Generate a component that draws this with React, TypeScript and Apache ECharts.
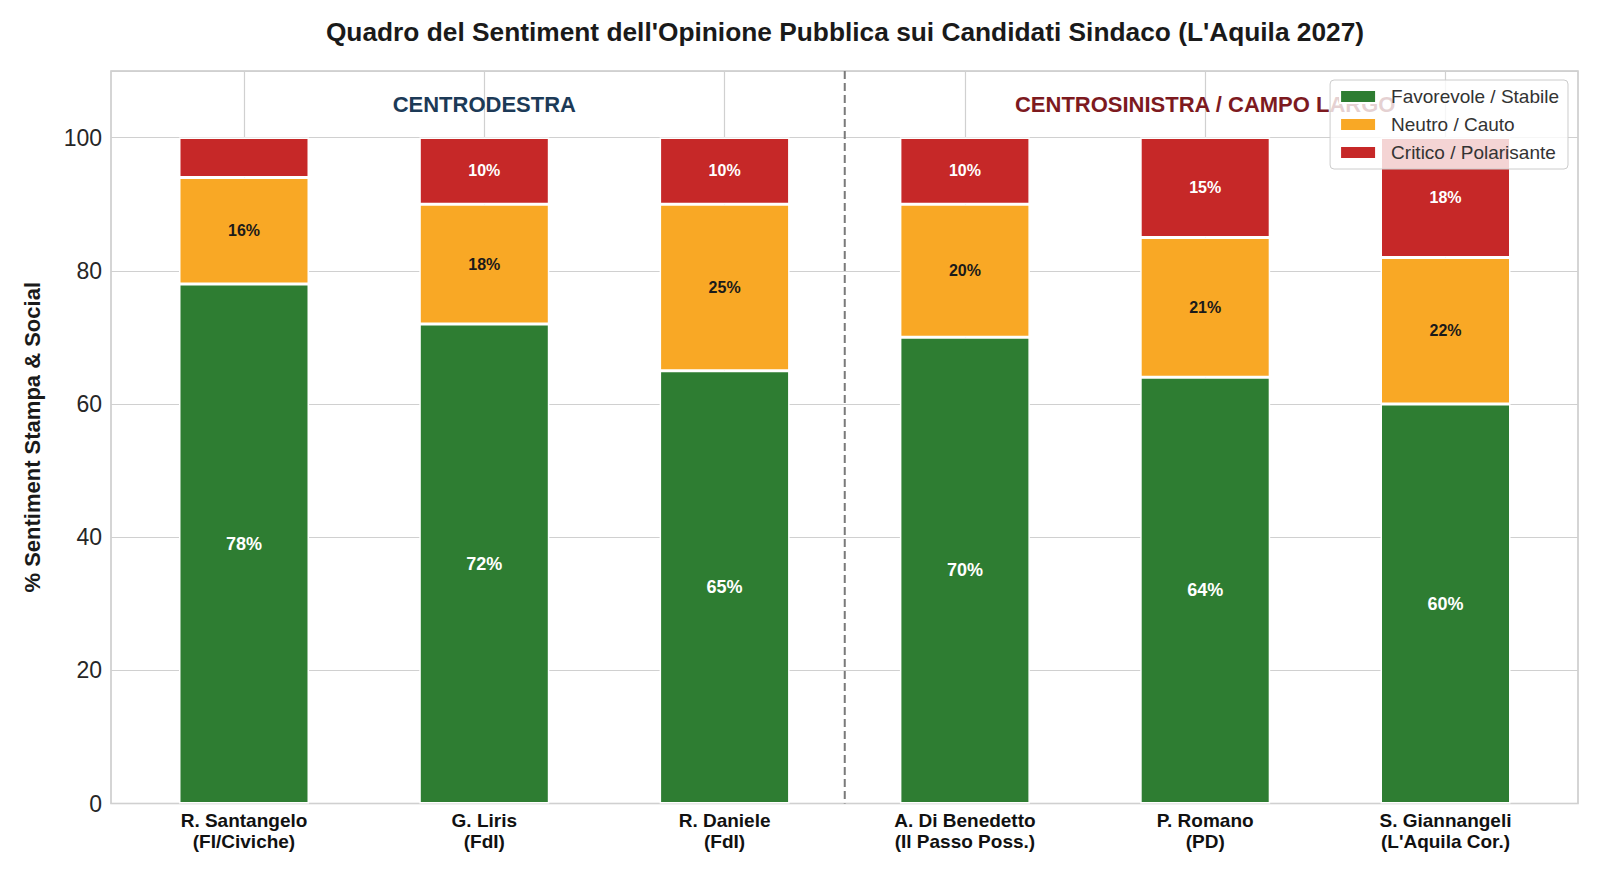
import React, { useEffect, useRef } from "react";
import * as echarts from "echarts";

const titleText = "Quadro del Sentiment dell'Opinione Pubblica sui Candidati Sindaco (L'Aquila 2027)";
const yAxisTitle = "% Sentiment Stampa & Social";
const categories = [
  "R. Santangelo\n(FI/Civiche)",
  "G. Liris\n(FdI)",
  "R. Daniele\n(FdI)",
  "A. Di Benedetto\n(Il Passo Poss.)",
  "P. Romano\n(PD)",
  "S. Giannangeli\n(L'Aquila Cor.)",
];
const seriesNames = ["Favorevole / Stabile", "Neutro / Cauto", "Critico / Polarisante"];
const favorevole = [78, 72, 65, 70, 64, 60];
const neutro = [16, 18, 25, 20, 21, 22];
const critico = [6, 10, 10, 10, 15, 18];
const groupLabels = ["CENTRODESTRA", "CENTROSINISTRA / CAMPO LARGO"];
const groupCenters = [1, 4];
const groupLabelY = 105;
const separatorBetween = [2, 3];
const yMin = 0;
const yMax = 110;
const yInterval = 20;
const labelThreshold = 8;

export default function App() {
  const ref = useRef<HTMLDivElement>(null);
  useEffect(() => {
    const chart = echarts.init(ref.current!, null, { renderer: "svg" });
    const font = "Liberation Sans";
    const colors = ["#2e7d32", "#f9a825", "#c62828"];
    const labelStyles = [
      { color: "#ffffff", fontSize: 18 },
      { color: "#1a1a1a", fontSize: 16 },
      { color: "#ffffff", fontSize: 16 },
    ];
    const groupColors = ["#1c3a57", "#7d1a1f"];
    const values = [favorevole, neutro, critico];
    const gridTop = 71;
    const gridHeight = 732.5;
    const gridColor = "#d0d0d0";
    const helperCats = Array.from({ length: categories.length * 2 + 1 }, (_, i) => String(i));

    const series: any[] = values.map((vals, i) => ({
      name: seriesNames[i],
      type: "bar",
      stack: "total",
      xAxisIndex: 0,
      yAxisIndex: 0,
      barWidth: 130,
      data: vals,
      z: 3,
      itemStyle: { color: colors[i], borderColor: "#ffffff", borderWidth: 1.5 },
      label: {
        show: true,
        position: "inside",
        fontFamily: font,
        fontWeight: "bold",
        formatter: (p: any) => (p.value >= labelThreshold ? `${p.value}%` : ""),
        ...labelStyles[i],
      },
    }));
    series[0].markPoint = {
      silent: true,
      symbol: "rect",
      symbolSize: 1,
      itemStyle: { color: "rgba(0,0,0,0)" },
      label: {
        show: true,
        position: "inside",
        fontFamily: font,
        fontSize: 22,
        fontWeight: "bold",
      },
      data: groupLabels.map((t, i) => ({
        name: t,
        coord: [groupCenters[i], groupLabelY],
        label: { formatter: t, color: groupColors[i] },
      })),
    };

    chart.setOption({
      animation: false,
      backgroundColor: "#ffffff",
      textStyle: { fontFamily: font },
      title: {
        text: titleText,
        left: 840,
        textAlign: "center",
        top: 14,
        textStyle: { fontFamily: font, fontSize: 26.3, fontWeight: "bold", color: "#1a1a1a" },
      },
      legend: {
        data: seriesNames,
        orient: "vertical",
        right: 32,
        top: 80,
        z: 20,
        icon: "rect",
        itemWidth: 36,
        itemHeight: 13,
        itemGap: 9,
        padding: [7, 9, 7, 9],
        backgroundColor: "rgba(255,255,255,0.8)",
        borderColor: "#cccccc",
        borderWidth: 1,
        borderRadius: 4,
        textStyle: { fontFamily: font, fontSize: 19, color: "#333333", padding: [0, 0, 0, 10] },
      },
      grid: [
        { left: 123.85, top: gridTop, width: 1441.8, height: gridHeight },
        {
          left: 111,
          top: gridTop,
          width: 1467,
          height: gridHeight,
          show: true,
          borderColor: "#c8c8c8",
          borderWidth: 1.5,
          backgroundColor: "rgba(0,0,0,0)",
        },
      ],
      xAxis: [
        {
          type: "category",
          gridIndex: 0,
          data: categories,
          axisLine: { show: false },
          axisTick: { show: false },
          splitLine: { show: false },
          axisLabel: {
            interval: 0,
            margin: 6,
            fontFamily: font,
            fontSize: 19,
            fontWeight: "bold",
            color: "#111111",
            lineHeight: 21,
          },
        },
        {
          type: "category",
          gridIndex: 0,
          data: helperCats,
          boundaryGap: false,
          axisLine: { show: false },
          axisTick: { show: false },
          axisLabel: { show: false },
          splitLine: {
            show: true,
            interval: (i: number) => i % 2 === 1,
            lineStyle: { color: gridColor, width: 1.2 },
          },
        },
        { type: "value", gridIndex: 1, show: false, min: 0, max: 1 },
      ],
      yAxis: [
        { type: "value", gridIndex: 0, min: yMin, max: yMax, show: false },
        {
          type: "value",
          gridIndex: 1,
          min: yMin,
          max: yMax,
          interval: yInterval,
          axisLine: { show: false },
          axisTick: { show: false },
          axisLabel: {
            margin: 9,
            fontFamily: font,
            fontSize: 23,
            color: "#262626",
            formatter: (v: number) => (v > 100 ? "" : String(v)),
          },
          splitLine: { show: true, lineStyle: { color: gridColor, width: 1.2 } },
          name: yAxisTitle,
          nameLocation: "middle",
          nameGap: 68,
          nameTextStyle: { fontFamily: font, fontSize: 22, fontWeight: "bold", color: "#1a1a1a" },
        },
      ],
      series,
    });

    const a = chart.convertToPixel({ xAxisIndex: 0, yAxisIndex: 0 }, [separatorBetween[0], yMin]);
    const b = chart.convertToPixel({ xAxisIndex: 0, yAxisIndex: 0 }, [separatorBetween[1], yMax]);
    if (a && b) {
      const x = (a[0] + b[0]) / 2;
      chart.setOption({
        graphic: [
          {
            type: "line",
            silent: true,
            z: 5,
            shape: { x1: x, y1: b[1], x2: x, y2: a[1] },
            style: { stroke: "#7a7a7a", lineWidth: 2, lineDash: [8, 4] },
          },
        ],
      });
    }

    return () => chart.dispose();
  }, []);
  return (
    <div
      ref={ref}
      style={{ position: "absolute", left: 0, top: 0, width: 1600, height: 873 }}
    />
  );
}
